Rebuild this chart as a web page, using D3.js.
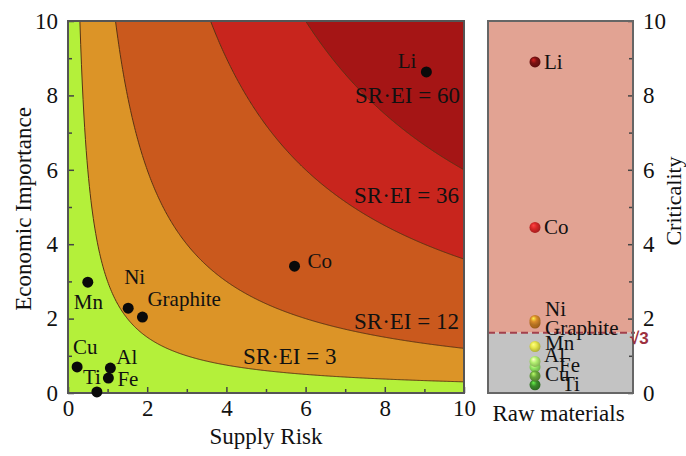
<!DOCTYPE html>
<html>
<head>
<meta charset="utf-8">
<script src="https://cdn.jsdelivr.net/npm/d3@7"></script>
<style>
  body { margin: 0; background: #fff; }
  text { font-family: "Liberation Serif", "Times New Roman", serif; fill: #111; }
</style>
</head>
<body>
<div id="chart"></div>
<script>
// data
var materials = ["Li", "Co", "Ni", "Graphite", "Mn", "Cu", "Al", "Fe", "Ti"];
var supplyRisk = [9.05, 5.72, 1.52, 1.88, 0.5, 0.23, 1.07, 1.02, 0.73];
var economicImportance = [8.63, 3.41, 2.28, 2.04, 2.98, 0.7, 0.67, 0.4, 0.03];
var criticality = [8.9, 4.45, 1.95, 1.88, 1.25, 0.46, 0.85, 0.7, 0.22];
var levels = [3, 12, 36, 60];
var threshold = 1.62;
var ticks = [0, 2, 4, 6, 8, 10];
var minorTicks = [1, 3, 5, 7, 9];

// look
var width = 686, height = 456;
var bandColors = ["#b4f03a", "#dc9427", "#ca591d", "#c8251d", "#a51515"];
var sphereColors = {
  Li: "#7a1212", Co: "#d82727", Ni: "#d98a2a", Graphite: "#c87820",
  Mn: "#e6e64a", Cu: "#6aa83c", Al: "#b2f070", Fe: "#92e862", Ti: "#3a8a2a"
};
// label offsets from the dot centre [dx, dy, anchor]
var leftLabel = {
  Li: [-10, -4, "end"], Co: [13, 2], Ni: [-4, -24], Graphite: [5, -11],
  Mn: [-14, 27], Cu: [-4, -13], Al: [6, -4], Fe: [9, 8], Ti: [-14, -8]
};
var rightLabel = {
  Li: [9, 7], Co: [9, 7], Ni: [10, -4], Graphite: [10, 12], Mn: [10, 3],
  Al: [9, 1], Fe: [24, 5], Cu: [10, 5], Ti: [27, 6]
};
// [x, y, anchor] of the SR·EI labels, in pixels
var levelLabelPos = [[243, 364, "start"], [459, 329, "end"], [459, 203, "end"], [460, 103, "end"]];

var svg = d3.select("#chart").append("svg")
  .attr("width", width).attr("height", height);

var x = d3.scaleLinear().domain([0, 10]).range([68, 464]);
var y = d3.scaleLinear().domain([0, 10]).range([393, 21]);
var rx0 = 488, rx1 = 633, rxc = 535;

var defs = svg.append("defs");
defs.append("clipPath").attr("id", "plotclip")
  .append("rect").attr("x", x(0)).attr("y", y(10))
  .attr("width", x(10) - x(0)).attr("height", y(0) - y(10));

// ---- left panel: SR x EI bands
var plot = svg.append("g").attr("clip-path", "url(#plotclip)");
plot.append("rect")
  .attr("x", x(0)).attr("y", y(10))
  .attr("width", x(10) - x(0)).attr("height", y(0) - y(10))
  .attr("fill", bandColors[0]);

function curvePts(c) {
  var pts = d3.range(c / 10, 10, 0.02);
  pts.push(10);
  return pts;
}

levels.forEach(function(c, i) {
  plot.append("path")
    .attr("d", d3.area()
      .x(function(s) { return x(s); })
      .y0(function(s) { return y(Math.min(10, c / s)); })
      .y1(y(10))(curvePts(c)))
    .attr("fill", bandColors[i + 1]);
});
levels.forEach(function(c) {
  plot.append("path")
    .attr("d", d3.line()
      .x(function(s) { return x(s); })
      .y(function(s) { return y(Math.min(10, c / s)); })(curvePts(c)))
    .attr("fill", "none")
    .attr("stroke", "#5a3214")
    .attr("stroke-width", 1);
});

// ticks inside the frame
function axisBits(g, axis) {
  g.call(axis);
  g.select(".domain").remove();
  g.selectAll(".tick line").attr("stroke", "#444").attr("stroke-width", 1.5);
  g.selectAll(".tick text").style("font-size", "23px")
    .style("font-family", "Liberation Serif").attr("fill", "#111");
}
svg.append("g").attr("transform", "translate(0," + y(0) + ")")
  .call(function(g) { axisBits(g, d3.axisBottom(x).tickValues(ticks).tickSize(-6).tickPadding(7)); });
svg.append("g").attr("transform", "translate(0," + y(0) + ")")
  .call(function(g) { axisBits(g, d3.axisBottom(x).tickValues(minorTicks).tickSize(-4).tickFormat("")); });
svg.append("g").attr("transform", "translate(" + x(0) + ",0)")
  .call(function(g) { axisBits(g, d3.axisLeft(y).tickValues(ticks).tickSize(-6).tickPadding(10)); });
svg.append("g").attr("transform", "translate(" + x(0) + ",0)")
  .call(function(g) { axisBits(g, d3.axisLeft(y).tickValues(minorTicks).tickSize(-4).tickFormat("")); });

svg.append("rect")
  .attr("x", x(0)).attr("y", y(10))
  .attr("width", x(10) - x(0)).attr("height", y(0) - y(10))
  .attr("fill", "none").attr("stroke", "#555").attr("stroke-width", 2);

// contour labels
levels.forEach(function(c, i) {
  svg.append("text")
    .attr("x", levelLabelPos[i][0]).attr("y", levelLabelPos[i][1])
    .attr("text-anchor", levelLabelPos[i][2])
    .style("font-size", "23px")
    .text("SR\u00b7EI = " + c);
});

// points
var pts = materials.map(function(m, i) {
  return { name: m, sr: supplyRisk[i], ei: economicImportance[i], cr: criticality[i] };
});

svg.selectAll(".dot").data(pts).enter().append("circle")
  .attr("class", "dot")
  .attr("cx", function(d) { return x(d.sr); })
  .attr("cy", function(d) { return y(d.ei); })
  .attr("r", 5.5)
  .attr("fill", "#0a0a0a");

svg.selectAll(".lbl").data(pts).enter().append("text")
  .attr("class", "lbl")
  .attr("x", function(d) { return x(d.sr) + leftLabel[d.name][0]; })
  .attr("y", function(d) { return y(d.ei) + leftLabel[d.name][1]; })
  .attr("text-anchor", function(d) { return leftLabel[d.name][2] || "start"; })
  .style("font-size", "21px")
  .text(function(d) { return d.name; });

// axis titles
svg.append("text").attr("x", (x(0) + x(10)) / 2).attr("y", 444)
  .attr("text-anchor", "middle").style("font-size", "23px").text("Supply Risk");
svg.append("text")
  .attr("transform", "translate(31," + 209 + ") rotate(-90)")
  .attr("text-anchor", "middle").style("font-size", "23px").text("Economic Importance");

// ---- right panel: criticality
svg.append("rect")
  .attr("x", rx0).attr("y", y(10))
  .attr("width", rx1 - rx0).attr("height", y(threshold) - y(10))
  .attr("fill", "#e2a393");
svg.append("rect")
  .attr("x", rx0).attr("y", y(threshold))
  .attr("width", rx1 - rx0).attr("height", y(0) - y(threshold))
  .attr("fill", "#c3c3c3");

svg.append("line")
  .attr("x1", rx0).attr("x2", rx1 + 2)
  .attr("y1", y(threshold)).attr("y2", y(threshold))
  .attr("stroke", "#a3404c").attr("stroke-width", 2)
  .attr("stroke-dasharray", "7,4");

svg.append("g").attr("transform", "translate(" + rx1 + ",0)")
  .call(function(g) { axisBits(g, d3.axisRight(y).tickValues(ticks).tickSize(-5).tickPadding(10)); });
svg.append("g").attr("transform", "translate(" + rx1 + ",0)")
  .call(function(g) { axisBits(g, d3.axisRight(y).tickValues(minorTicks).tickSize(-4).tickFormat("")); });

svg.append("rect")
  .attr("x", rx0).attr("y", y(10))
  .attr("width", rx1 - rx0).attr("height", y(0) - y(10))
  .attr("fill", "none").attr("stroke", "#666").attr("stroke-width", 2);

svg.append("text")
  .attr("x", rx1 - 3).attr("y", y(threshold) + 11)
  .style("font-size", "17px").style("font-weight", "bold")
  .style("font-family", "Liberation Sans")
  .style("fill", "#9c3040")
  .text("\u221a3");

// shaded spheres
materials.forEach(function(m) {
  var col = d3.color(sphereColors[m]);
  var gr = defs.append("radialGradient").attr("id", "sph-" + m)
    .attr("cx", "45%").attr("cy", "45%").attr("r", "60%")
    .attr("fx", "35%").attr("fy", "30%");
  gr.append("stop").attr("offset", "0%").attr("stop-color", col.brighter(1.6));
  gr.append("stop").attr("offset", "45%").attr("stop-color", col);
  gr.append("stop").attr("offset", "100%").attr("stop-color", col.darker(0.9));
});

svg.selectAll(".sph").data(pts.slice().reverse()).enter().append("circle")
  .attr("class", "sph")
  .attr("cx", rxc)
  .attr("cy", function(d) { return y(d.cr); })
  .attr("r", 5.5)
  .attr("fill", function(d) { return "url(#sph-" + d.name + ")"; });

svg.selectAll(".rlbl").data(pts).enter().append("text")
  .attr("class", "rlbl")
  .attr("x", function(d) { return rxc + rightLabel[d.name][0]; })
  .attr("y", function(d) { return y(d.cr) + rightLabel[d.name][1]; })
  .style("font-size", "21px")
  .text(function(d) { return d.name; });

svg.append("text").attr("x", (rx0 + rx1) / 2 - 2).attr("y", 421)
  .attr("text-anchor", "middle").style("font-size", "23px").text("Raw materials");
svg.append("text")
  .attr("transform", "translate(681," + 201 + ") rotate(-90)")
  .attr("text-anchor", "middle").style("font-size", "22px").text("Criticality");
</script>
</body>
</html>
